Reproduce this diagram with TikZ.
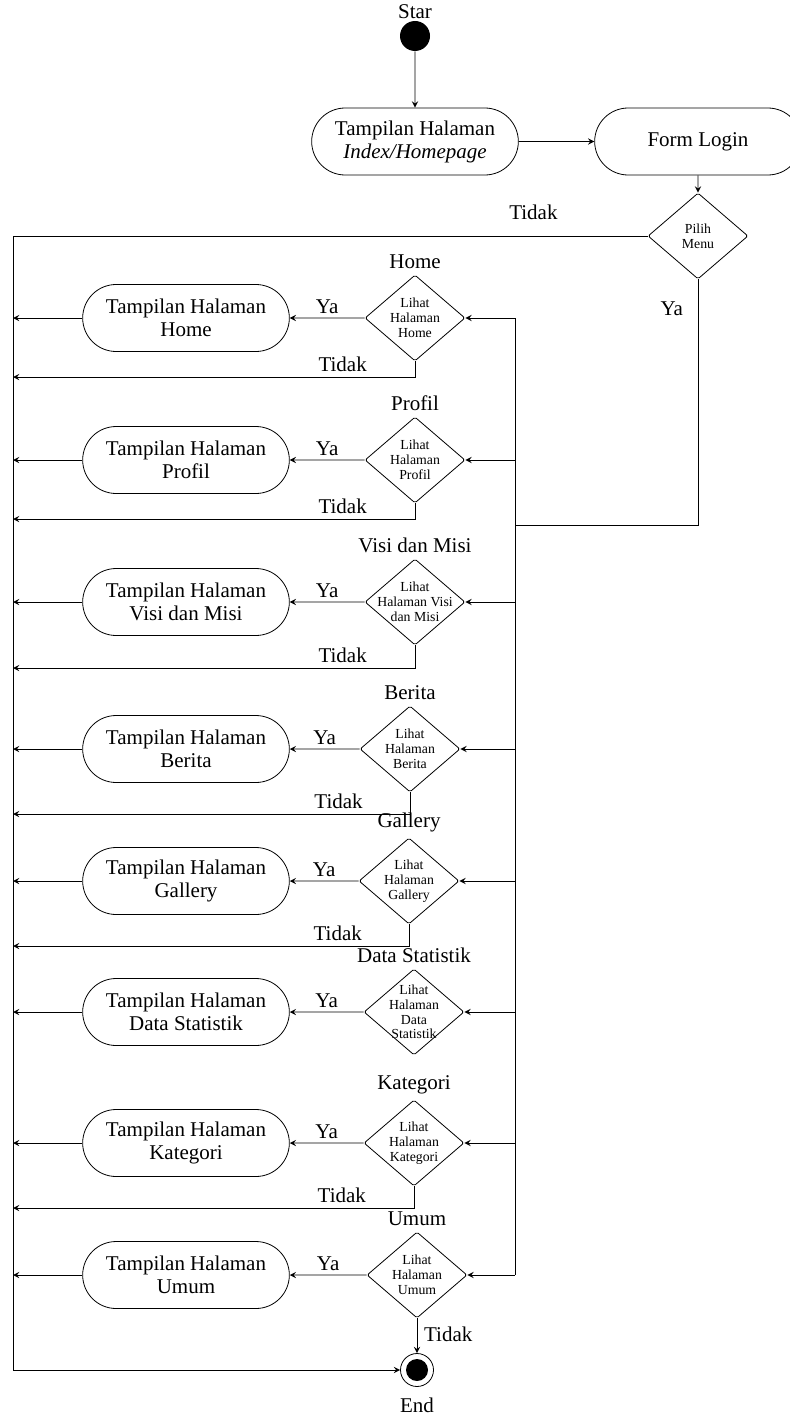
\documentclass[tikz,border=0pt]{standalone}
\usepackage{fontspec}
\setmainfont{Liberation Serif}
\usetikzlibrary{shapes.geometric,shapes.misc,positioning}
\begin{document}
\begin{tikzpicture}[x=0.5pt,y=-0.5pt,>=stealth,
	tampil/.style={draw,rounded rectangle,minimum width=110pt,minimum height=33.5pt,align=center,font=\fontsize{10.5}{11.5}\selectfont},
	pilih/.style={draw,diamond,minimum width=50pt,minimum height=43pt,inner sep=0pt,rounded corners=0.8pt},
	isi/.style={align=center,font=\fontsize{6.9}{7.4}\selectfont},
	nhan/.style={font=\fontsize{10.5}{12}\selectfont},
	akhir/.style={draw,circle,minimum size=16.5pt,inner sep=0pt,path picture={\fill (path picture bounding box.center) circle (5.5pt);}}]
	\useasboundingbox (0,0) rectangle (790,1418);
	
	\node[circle,fill,minimum size=15pt,inner sep=0pt] (mulai) at (415,36) {};
	\node[nhan,above=-2.5pt of mulai] (tMulai) {Star};
	\node[tampil] (index) at (415,141.5) {Tampilan Halaman\\\textit{Index/Homepage}};
	\node[tampil] (form) at (698,141.5) {Form Login};
	\node[pilih,label={[isi]center:{Pilih\\Menu}}] (menu) at (698,236) {};
	\node[akhir] (akhir) at (417,1370) {};
	\node[nhan,below=2pt of akhir] (tAkhir) {End};
	\coordinate (kiri) at (13,236);
	\coordinate (kanan) at (515,525);
	
	\draw[->] (mulai)--(index);
	\draw[->] (index)--(form);
	\draw[->] (form)--(menu);
	\draw[->] (menu)--node[nhan,above=4.5pt,pos=0.18]{Tidak}(kiri)--(kiri|-akhir)--(akhir);
	\draw (menu)|-node[nhan,left=4pt,pos=0.06]{Ya}(kanan);
	
	\foreach \ten/\vtri/\xd/\judul/\teks in {Home/318/415/Home/{Lihat\\Halaman\\Home},
		Profil/460/415/Profil/{Lihat\\Halaman\\Profil},
		Visi/602/415/Visi dan Misi/{Lihat\\Halaman Visi\\dan Misi},
		Berita/749/410/Berita/{Lihat\\Halaman\\Berita},
		Gallery/881/409/Gallery/{Lihat\\Halaman\\Gallery},
		Data/1012/414/Data Statistik/{Lihat\\Halaman\\Data\\Statistik},
		Kategori/1143/414/Kategori/{Lihat\\Halaman\\Kategori},
		Umum/1275/417/Umum/{Lihat\\Halaman\\Umum}}
	{
		\node[pilih,label={[isi]center:\teks}] (d\ten) at (\xd,\vtri) {};
		\node[nhan,above=-0.5pt of d\ten] (j\ten) {\judul};
		\node[tampil] (t\ten) at (186,\vtri) {Tampilan Halaman\\\judul};
		\draw[->] (d\ten)--node[nhan,above,inner sep=2pt]{Ya}(t\ten);
		\draw[->] (t\ten)--(kiri|-t\ten);
		\draw[->] (kanan|-d\ten)--(d\ten);
	}
	\draw (kanan|-dHome)--(kanan|-dUmum);
	
	\foreach \ten/\tidak in {Home/377,Profil/519,Visi/668,Berita/814,Gallery/946,Kategori/1208}
	\draw[->] (d\ten)|-node[nhan,pos=0.59,above,inner sep=2.5pt]{Tidak}(kiri|-0,\tidak);
	\draw[->] (dUmum)--node[nhan,right,pos=0.45]{Tidak}(akhir);
\end{tikzpicture}
\end{document}
